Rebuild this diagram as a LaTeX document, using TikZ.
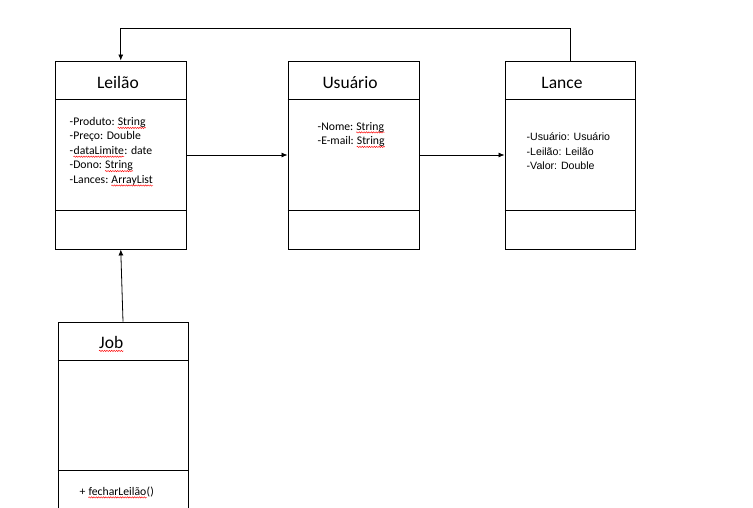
\documentclass[tikz,border=0pt]{standalone}
\usepackage{fontspec}
\setmainfont{Carlito}
\newfontfamily\arialf{Liberation Sans}
\usetikzlibrary{arrows.meta,decorations.pathmorphing}
\tikzset{
  cls/.style={draw, line width=0.9pt, inner sep=0pt},
  divline/.style={line width=0.9pt},
  ttl/.style={font=\fontsize{17.5}{20}\selectfont, inner sep=0pt, anchor=base},
  attr/.style={font=\fontsize{11.7}{14}\selectfont, inner sep=0pt, anchor=base west},
  attrb/.style={font=\arialf\fontsize{10.6}{14}\selectfont, inner sep=0pt, anchor=base west},
  conn/.style={line width=0.8pt, -{Latex[length=6pt,width=5pt]}},
  squig/.style={red, line width=0.45pt, decorate, decoration={snake, amplitude=0.65pt, segment length=2.4pt}}
}
\newcommand\wave[1]{\draw[squig] ([yshift=-2.4pt]#1.base west) -- ([yshift=-2.4pt]#1.base east);}
\begin{document}
\begin{tikzpicture}[x=1pt,y=-1pt]
\useasboundingbox[fill=white] (0,0) rectangle (753,507);
% class boxes
\node[cls, minimum width=131pt, minimum height=188pt] (leilao) at (120.75,155) {};
\node[cls, minimum width=131pt, minimum height=188pt] (usuario) at (353.5,155) {};
\node[cls, minimum width=130pt, minimum height=188pt] (lance) at (570,155) {};
\node[cls, minimum width=130pt, minimum height=200pt] (job) at (123,422) {};
% dividers
\foreach \n in {leilao,usuario,lance}{
  \draw[divline] ([yshift=-38.5pt]\n.north west) -- ([yshift=-38.5pt]\n.north east);
  \draw[divline] ([yshift=-149.5pt]\n.north west) -- ([yshift=-149.5pt]\n.north east);
}
\draw[divline] ([yshift=-39pt]job.north west) -- ([yshift=-39pt]job.north east);
\draw[divline] ([yshift=-149pt]job.north west) -- ([yshift=-149pt]job.north east);
% titles
\node[ttl] (tleilao) at (118,88) {Leilão};
\node[ttl] (tusuario) at (350,88.3) {Usuário};
\node[ttl] (tlance) at (562,88) {Lance};
\node[ttl, anchor=base west] (tjob) at (99,348.5) {Job};
\wave{tjob}
% Leilao attributes
\node[attr] (la1) at (69.5,125.5) {-Produto:};
\node[attr] (la1w) at ([xshift=2.65pt]la1.base east) {String};
\node[attr] (la2) at (69.5,139.9) {-Preço: Double};
\node[attr] (la3) at (69.5,154.3) {-};
\node[attr] (la3w) at (la3.base east) {dataLimite};
\node[attr] (la3b) at (la3w.base east) {: date};
\node[attr] (la4) at (69.5,168.7) {-Dono:};
\node[attr] (la4w) at ([xshift=2.65pt]la4.base east) {String};
\node[attr] (la5) at (69.5,183.1) {-Lances:};
\node[attr] (la5w) at ([xshift=2.65pt]la5.base east) {ArrayList};
\wave{la1w}\wave{la3w}\wave{la4w}\wave{la5w}
% Usuario attributes
\node[attr] (ua1) at (317.5,130) {-Nome:};
\node[attr] (ua1w) at ([xshift=2.65pt]ua1.base east) {String};
\node[attr] (ua2) at (317.5,144.5) {-E-mail:};
\node[attr] (ua2w) at ([xshift=2.65pt]ua2.base east) {String};
\wave{ua1w}\wave{ua2w}
% Lance attributes
\node[attrb] (ca1) at (526.5,140.5) {-Usuário: Usuário};
\node[attrb] (ca2) at (526.5,155) {-Leilão: Leilão};
\node[attrb] (ca3) at (526.5,169.5) {-Valor: Double};
% Job method
\node[attr] (jm1) at (79.5,495) {+};
\node[attr] (jm1w) at ([xshift=2.65pt]jm1.base east) {fecharLeilão};
\node[attr] (jm1b) at (jm1w.base east) {()};
\wave{jm1w}
% connectors
\draw[conn] (leilao.east) -- (usuario.west);
\draw[conn] (usuario.east) -- (lance.west);
\draw[conn] (lance.north) -- ++(0,-32) -| (leilao.north);
\draw[conn] (job.north) -- (leilao.south);
\end{tikzpicture}
\end{document}
